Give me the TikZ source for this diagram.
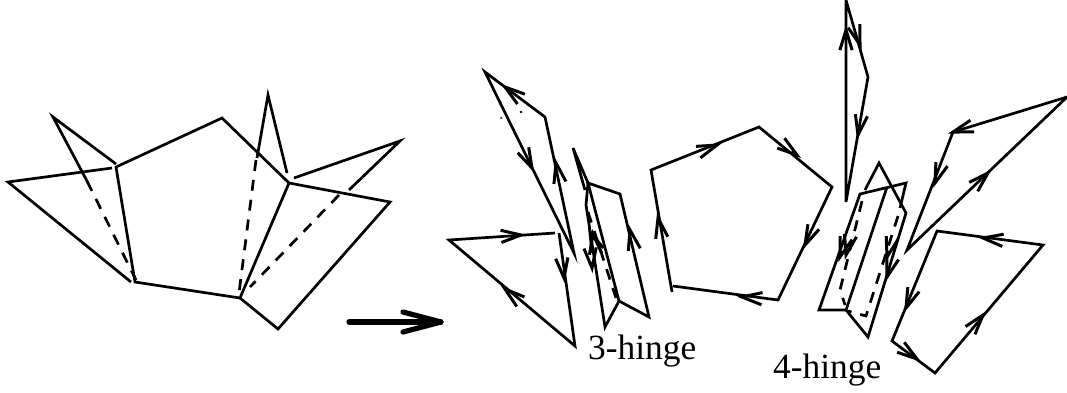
\documentclass[tikz,border=0pt]{standalone}
\usepackage{fontspec}
\setmainfont{Liberation Serif}
\usetikzlibrary{calc}
\tikzset{
  edge/.style={line width=2.7pt,line join=miter},
  barb/.style={line width=3pt,line join=miter},
  dashedge/.style={line width=2.7pt,dash pattern=on 11pt off 9pt},
  hinge/.style={inner sep=0pt,anchor=base west,font=\fontsize{35.4}{40}\selectfont},
}
\newcommand\chv[2]{\draw[barb] ($(#1)!21pt!17:(#2)$) -- (#1) -- ($(#1)!21pt!-17:(#2)$);}
\begin{document}
\begin{tikzpicture}[x=1pt,y=-1pt]
\useasboundingbox (0,0) rectangle (1067,392);
% left figure
\draw[edge] (116,167) -- (222,118) -- (289,183) -- (240,298) -- (135,282) -- cycle;
\draw[edge] (116,164) -- (53,117) -- (87,181);
\draw[dashedge] (87,181) -- (136,280);
\draw[edge] (112,168) -- (8,182) -- (131,282);
\draw[edge] (287,173) -- (268,95) -- (257,158);
\draw[dashedge] (256,160) -- (239,293);
\draw[edge] (294,178) -- (400,141) -- (349,190);
\draw[dashedge] (339,195) -- (250,287);
\draw[edge] (289,183) -- (390,202) -- (278,329) -- (240,298);
\coordinate (ma) at (349,322); \coordinate (mb) at (441,322);
\draw[line width=5.2pt,line cap=round] (ma) -- (mb);
\draw[line width=5.2pt,line cap=round,line join=round] (403,312) -- (mb) -- (403,332);
% upper left flap
\coordinate (a1) at (485,72); \coordinate (a2) at (545,117); \coordinate (a3) at (574,253);
\draw[edge] (a1) -- (a2) -- (a3) -- cycle;
\coordinate (t1) at (505,87); \chv{t1}{a2}
\coordinate (t2) at (532,168); \chv{t2}{a1}
\coordinate (t3) at (556,163); \chv{t3}{a3}
\fill (501,118) circle (1pt);
\fill (521,112) circle (1.3pt);
% lower left flap
\coordinate (b1) at (555,233); \coordinate (b2) at (449,240); \coordinate (b3) at (575,346); \coordinate (b4) at (559,233);
\draw[edge] (b1) -- (b2) -- (b3) -- (b4);
\coordinate (t4) at (521,235); \chv{t4}{b2}
\coordinate (t5) at (505,289); \chv{t5}{b3}
\coordinate (t6) at (564,278); \chv{t6}{b4}
% 3-hinge
\coordinate (c0) at (573,148); \coordinate (c1) at (588,183); \coordinate (c2) at (620,194);
\coordinate (c3) at (649,317); \coordinate (c4) at (619,301); \coordinate (c5) at (605,327);
\coordinate (c6) at (586,205); \coordinate (c7) at (585,190);
\draw[edge] (c1) -- (c2) -- (c3) -- (c4) -- cycle;
\draw[edge] (c4) -- (c5) -- (c6) -- (c1);
\draw[edge] (c7) -- (c0) -- (c1);
\draw[dashedge] (588,212) -- (616,298);
\coordinate (t7) at (630,230); \chv{t7}{c3}
\coordinate (t8) at (592,268); \chv{t8}{c6}
\coordinate (t9) at (590,232); \chv{t9}{c4}
\coordinate (t10) at (593,234); \chv{t10}{c5}
% pentagon
\coordinate (p1) at (651,170); \coordinate (p2) at (759,127); \coordinate (p3) at (832,187);
\coordinate (p4) at (778,300); \coordinate (p5) at (673,286); \coordinate (p6) at (672,292);
\draw[edge] (p6) -- (p1) -- (p2) -- (p3) -- (p4) -- (p5);
\coordinate (t11) at (717,145); \chv{t11}{p1}
\coordinate (t12) at (797,155); \chv{t12}{p2}
\coordinate (t13) at (805,245); \chv{t13}{p3}
\coordinate (t14) at (742,297); \chv{t14}{p4}
\coordinate (t15) at (658,218); \chv{t15}{p6}
% tall flap
\coordinate (d1) at (846,0); \coordinate (d2) at (868,77); \coordinate (d3) at (846,202);
\draw[edge] (d3) -- (d1) -- (d2) -- cycle;
\coordinate (t16) at (846,30); \chv{t16}{d3}
\coordinate (t17) at (860,45); \chv{t17}{d1}
\coordinate (t18) at (858,135); \chv{t18}{d2}
% 4-hinge
\coordinate (e0) at (879,163); \coordinate (e1) at (906,183); \coordinate (e2) at (860,194);
\coordinate (e3) at (819,310); \coordinate (e4) at (846,310); \coordinate (e5) at (887,187);
\coordinate (e6) at (906,213); \coordinate (e7) at (868,337); \coordinate (e8) at (865,190);
\coordinate (e9) at (900,208);
\draw[edge] (e9) -- (e1) -- (e2) -- (e3) -- (e4) -- (e5);
\draw[edge] (e8) -- (e0) -- (e6) -- (e7) -- (e4);
\draw[dashedge] (862,201) -- (840,290) -- (845,305);
\draw[dashedge] (898,216) -- (866,316) -- (848,311);
\coordinate (t19) at (840,257); \chv{t19}{e2}
\coordinate (t20) at (846,255); \chv{t20}{e2}
\coordinate (t21) at (887,257); \chv{t21}{e9}
\coordinate (t22) at (887,277); \chv{t22}{e6}
% right flap
\coordinate (f1) at (1067,97); \coordinate (f2) at (953,132); \coordinate (f3) at (907,250);
\draw[edge] (f1) -- (f2) -- (f3) -- cycle;
\chv{f2}{f1}
\coordinate (t23) at (935,183); \chv{t23}{f2}
\coordinate (t24) at (988,173); \chv{t24}{f3}
% right quadrilateral
\coordinate (g1) at (937,231); \coordinate (g2) at (1043,245); \coordinate (g3) at (935,373); \coordinate (g4) at (892,341);
\draw[edge] (g1) -- (g2) -- (g3) -- (g4) -- cycle;
\coordinate (t25) at (983,238); \chv{t25}{g2}
\coordinate (t26) at (906,308); \chv{t26}{g1}
\coordinate (t27) at (917,359); \chv{t27}{g4}
\coordinate (t28) at (983,315); \chv{t28}{g3}
% labels
\node[hinge] (h3) at (588,359) {3-hinge};
\node[hinge] (h4) at (773,378) {4-hinge};
\end{tikzpicture}
\end{document}
